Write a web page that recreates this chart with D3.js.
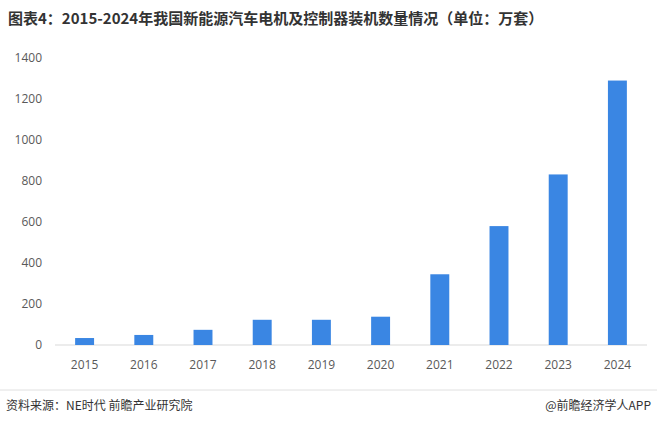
<!DOCTYPE html>
<html><head><meta charset="utf-8">
<script src="https://cdn.jsdelivr.net/npm/d3@7"></script>
<style>body{margin:0;background:#fff}</style>
</head><body><svg></svg>
<script>
var years = ["2015","2016","2017","2018","2019","2020","2021","2022","2023","2024"];
var values = [34, 49, 74, 123, 123, 138, 345, 580, 832, 1290];
var yTicks = [0, 200, 400, 600, 800, 1000, 1200, 1400];

var width = 657, height = 424;
var svg = d3.select("svg").attr("width", width).attr("height", height)
    .style("font-family", "'Noto Sans CJK SC', sans-serif");

svg.append("text").attr("x", 8).attr("y", 24)
    .attr("font-size", 15).attr("font-weight", "bold").attr("fill", "#333")
    .text("图表4：2015-2024年我国新能源汽车电机及控制器装机数量情况（单位：万套）");

var x = d3.scaleBand().domain(years).range([55, 647]).paddingInner(0.68).paddingOuter(0.34);
var y = d3.scaleLinear().domain([0, 1400]).range([345, 58]);

svg.append("line").attr("x1", 55).attr("x2", 647).attr("y1", y(0)).attr("y2", y(0))
    .attr("stroke", "#d9d9d9");

svg.selectAll("text.yt").data(yTicks).enter().append("text")
    .attr("class", "yt").attr("x", 42).attr("y", d => y(d) + 4)
    .attr("text-anchor", "end").attr("font-size", 12).attr("fill", "#595959")
    .style("font-family", "'Open Sans', sans-serif").text(d => d);

svg.selectAll("rect").data(values).enter().append("rect")
    .attr("x", (d, i) => x(years[i])).attr("width", x.bandwidth())
    .attr("y", d => y(d)).attr("height", d => y(0) - y(d))
    .attr("fill", "#3a86e3");

svg.selectAll("text.xt").data(years).enter().append("text")
    .attr("class", "xt").attr("x", d => x(d) + x.bandwidth() / 2).attr("y", 369)
    .attr("text-anchor", "middle").attr("font-size", 12).attr("fill", "#595959")
    .style("font-family", "'Open Sans', sans-serif").text(d => d);

svg.append("line").attr("x1", 0).attr("x2", width).attr("y1", 390).attr("y2", 390)
    .attr("stroke", "#e0e0e0");
svg.append("text").attr("x", 6).attr("y", 410).attr("font-size", 12).attr("fill", "#333")
    .text("资料来源：NE时代  前瞻产业研究院");
svg.append("text").attr("x", 651).attr("y", 410).attr("text-anchor", "end")
    .attr("font-size", 12).attr("fill", "#333").text("@前瞻经济学人APP");
</script></body></html>
